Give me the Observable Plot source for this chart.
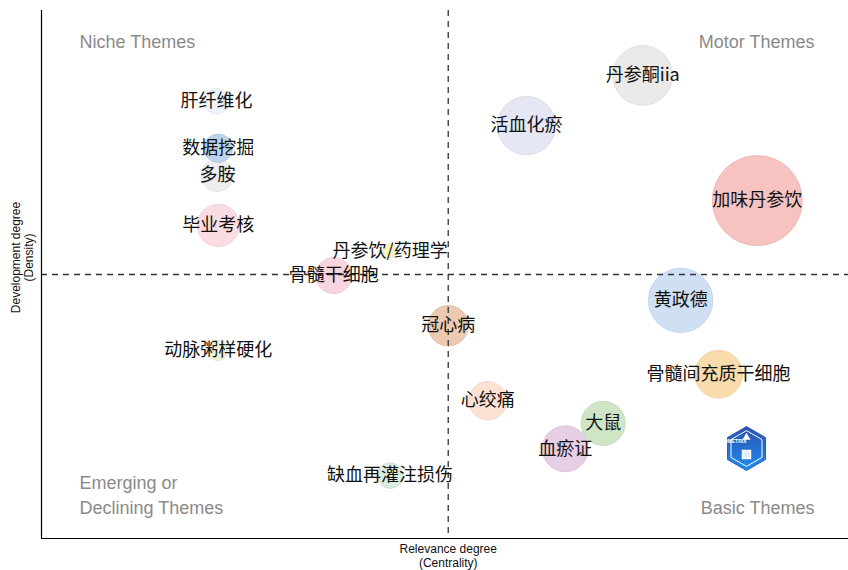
<!DOCTYPE html>
<html>
<head>
<meta charset="utf-8">
<script src="https://cdn.jsdelivr.net/npm/d3@7"></script>
<script src="https://cdn.jsdelivr.net/npm/@observablehq/plot@0.6"></script>
<style>
  html, body { margin: 0; padding: 0; background: #fff; }
  #chart { width: 848px; height: 570px; }
</style>
</head>
<body>
<div id="chart"></div>
<script>
// Theme labels
const themes = ["肝纤维化", "数据挖掘", "多胺", "毕业考核", "丹参饮/药理学", "骨髓干细胞", "冠心病",
  "动脉粥样硬化", "缺血再灌注损伤", "心绞痛", "大鼠", "血瘀证", "黄政德", "骨髓间充质干细胞",
  "活血化瘀", "丹参酮iia", "加味丹参饮"];
// Relevance degree (centrality), normalised
const centrality = [0.217, 0.219, 0.218, 0.219, 0.432, 0.362, 0.504,
  0.219, 0.432, 0.553, 0.696, 0.649, 0.792, 0.839,
  0.601, 0.745, 0.887];
// Development degree (density), normalised
const density = [0.828, 0.739, 0.688, 0.593, 0.545, 0.498, 0.403,
  0.356, 0.119, 0.261, 0.218, 0.170, 0.451, 0.311,
  0.782, 0.877, 0.640];
// Bubble size (relative frequency)
const frequency = [8, 10, 13, 22, 2.4, 16, 20,
  5, 8, 18, 24, 26, 51, 28,
  42, 44, 100];
const colors = ["#edf3fb", "#bcd3ec", "#eeeef0", "#fadce3", "#faf2c0", "#f8d4de", "#ecc9b1",
  "#eef1d4", "#d9ede2", "#fde2d4", "#cfe6c6", "#e6cfe5", "#cfe0f4", "#f8dcac",
  "#e6e7f4", "#ebeae8", "#f6c3c1"];

const centralityMean = 0.504;
const densityMean = 0.5;

const quadrantTopLeft = ["Niche Themes"];
const quadrantTopRight = ["Motor Themes"];
const quadrantBottomLeft = ["Emerging or\nDeclining Themes"];
const quadrantBottomRight = ["Basic Themes"];
const xTitle = ["Relevance degree\n(Centrality)"];
const yTitle = ["Development degree\n(Density)"];
const logoText = ["BIBLIOMETRIX"];

const data = themes.map((t, i) => ({
  theme: t, x: centrality[i], y: density[i], f: frequency[i], color: colors[i]
}));

const cjk = "'Noto Sans CJK SC', 'Noto Sans', sans-serif";
const latin = "'Liberation Sans', Arial, sans-serif";

const svg = Plot.plot({
  width: 848,
  height: 570,
  marginLeft: 41,
  marginRight: 0,
  marginTop: 10,
  marginBottom: 32,
  x: {domain: [0, 1], axis: null},
  y: {domain: [0, 1], axis: null},
  r: {type: "sqrt", domain: [0, 100], range: [0, 45]},
  style: {background: "#fff"},
  marks: [
    Plot.dot(data, {
      x: "x", y: "y", r: "f",
      fill: d => d.color,
      stroke: d => d3.color(d.color).darker(0.12).formatHex(),
      strokeWidth: 1
    }),
    Plot.ruleX([centralityMean], {stroke: "#333", strokeWidth: 1.3, strokeDasharray: "6,5"}),
    Plot.ruleY([densityMean], {stroke: "#333", strokeWidth: 1.3, strokeDasharray: "6,5"}),
    Plot.ruleX([0], {stroke: "#000", strokeWidth: 1.2}),
    Plot.ruleY([0], {stroke: "#000", strokeWidth: 1.2}),
    Plot.text(data, {
      x: "x", y: "y", text: "theme",
      fontSize: 18, fill: "#111", fontFamily: cjk
    }),
    // quadrant labels
    Plot.text(quadrantTopLeft, {frameAnchor: "top-left", text: d => d, dx: 38, dy: 32,
      fontSize: 18, fill: "#8a8a8a", fontFamily: latin, textAnchor: "start", lineAnchor: "middle"}),
    Plot.text(quadrantTopRight, {frameAnchor: "top-right", text: d => d, dx: -34, dy: 32,
      fontSize: 18, fill: "#8a8a8a", fontFamily: latin, textAnchor: "end", lineAnchor: "middle"}),
    Plot.text(quadrantBottomLeft, {frameAnchor: "bottom-left", text: d => d, dx: 38, dy: -45,
      fontSize: 18, fill: "#8a8a8a", fontFamily: latin, textAnchor: "start", lineAnchor: "middle", lineHeight: 1.39}),
    Plot.text(quadrantBottomRight, {frameAnchor: "bottom-right", text: d => d, dx: -34, dy: -30,
      fontSize: 18, fill: "#8a8a8a", fontFamily: latin, textAnchor: "end", lineAnchor: "middle"}),
    // axis titles
    Plot.text(xTitle, {x: [centralityMean], frameAnchor: "bottom", text: d => d, dy: 5,
      lineAnchor: "top", fontSize: 12, fill: "#111", fontFamily: latin, lineHeight: 1.15}),
    Plot.text(yTitle, {frameAnchor: "left", text: d => d, rotate: -90, dx: -19.5, dy: -17,
      textAnchor: "middle", lineAnchor: "middle", fontSize: 12, fill: "#111", fontFamily: latin, lineHeight: 1.1}),
    // logo
    Plot.dot(logoText, {frameAnchor: "bottom-right", dx: -102, dy: -90, symbol: "hexagon", r: 19,
      fill: "url(#logoGrad)", stroke: "#2a5dbf", strokeWidth: 1}),
    Plot.dot(logoText, {frameAnchor: "bottom-right", dx: -102, dy: -90, symbol: "hexagon", r: 15.5,
      fill: "none", stroke: "#fff", strokeWidth: 1}),
    Plot.dot(logoText, {frameAnchor: "bottom-right", dx: -102, dy: -101, symbol: "triangle", r: 3,
      fill: "#fff"}),
    Plot.dot(logoText, {frameAnchor: "bottom-right", dx: -102, dy: -84, symbol: "square", r: 4.5,
      fill: "#dfeeff", stroke: "#fff"}),
    Plot.text(logoText, {frameAnchor: "bottom-right", text: d => d, dx: -102, dy: -96,
      fontSize: 5, fontWeight: "bold", fill: "#fff", fontFamily: latin})
  ]
});

const defs = d3.select(svg).insert("defs", ":first-child");
const grad = defs.append("linearGradient").attr("id", "logoGrad")
  .attr("x1", 0).attr("y1", 0).attr("x2", 0).attr("y2", 1);
grad.append("stop").attr("offset", "0%").attr("stop-color", "#2b4fae");
grad.append("stop").attr("offset", "100%").attr("stop-color", "#1e8ff0");

document.getElementById("chart").appendChild(svg);
</script>
</body>
</html>
